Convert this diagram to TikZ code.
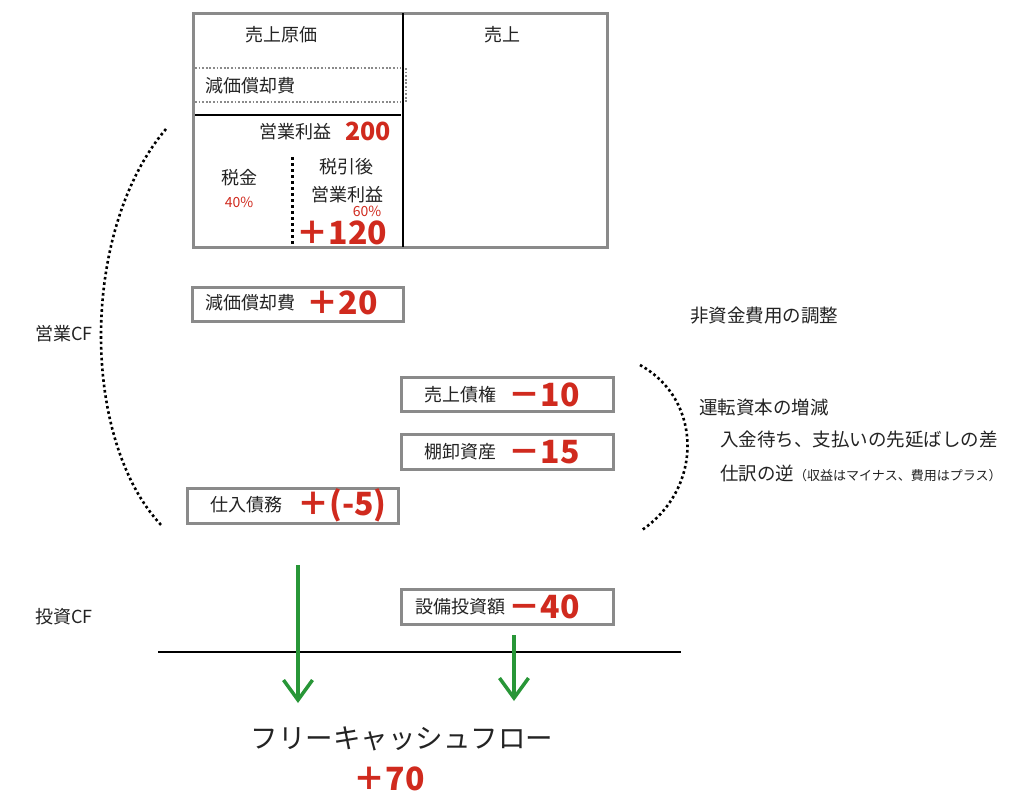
\documentclass[tikz,border=0pt]{standalone}
\usepackage{fontspec}
\setmainfont{Noto Sans CJK JP}
\usetikzlibrary{arrows.meta}
\definecolor{rednum}{RGB}{208,42,30}
\definecolor{boxgray}{RGB}{138,138,138}
\definecolor{arrowgreen}{RGB}{40,150,55}
\definecolor{txt}{RGB}{35,35,35}
\tikzset{
  lbl/.style={inner sep=0pt, text=txt, font=\fontsize{18}{21}\selectfont},
  note/.style={inner sep=0pt, anchor=west, text=txt, font=\fontsize{18.5}{22}\selectfont},
  num/.style={inner sep=0pt, text=rednum, font=\fontsize{32}{36}\selectfont\bfseries},
  midnum/.style={inner sep=0pt, text=rednum, font=\fontsize{25}{28}\selectfont\bfseries},
  pct/.style={inner sep=0pt, text=rednum, font=\fontsize{14}{16}\selectfont},
  itembox/.style={draw=boxgray, line width=3pt, inner sep=0pt},
  flow/.style={draw=arrowgreen, line width=4pt, -{Straight Barb[length=20pt,width=29pt,line width=3.5pt]}},
  bracket/.style={line width=2.6pt, dash pattern=on 2.6pt off 2.8pt},
  graydot/.style={draw=boxgray, line width=1.8pt, dash pattern=on 1.8pt off 1.8pt},
}
\begin{document}
\begin{tikzpicture}[x=1pt,y=-1pt]
\useasboundingbox[fill=white] (0,0) rectangle (1024,807);

% P/L box
\node[itembox, minimum width=414pt, minimum height=234pt] (pl) at (400,130) {};
\draw[line width=2.5pt] (403,13) -- (403,247);
\draw[graydot] (195,68) -- (401,68);
\draw[graydot] (195,102) -- (401,102);
\draw[graydot] (406,68) -- (406,102);
\draw[line width=2.5pt] (195,115) -- (401,115);
\draw[line width=3pt, dash pattern=on 3pt off 3pt] (292,157) -- (292,246);

\node[lbl] (cogs) at (281,35) {売上原価};
\node[lbl] (sales) at (502,35) {売上};
\node[lbl] (dep) at (250,86) {減価償却費};
\node[lbl] (op) at (295,132) {営業利益};
\node[midnum] (op200) at (368,131) {200};
\node[lbl] (tax) at (239,178) {税金};
\node[pct] (tax40) at (239,202) {40\%};
\node[lbl] (after) at (346,167) {税引後};
\node[lbl] (op2) at (347,195) {営業利益};
\node[pct] (p60) at (367,211) {60\%};
\node[num] (n120) at (342,233) {＋120};

% item boxes
\node[itembox, minimum width=211pt, minimum height=34pt] (b1) at (297.5,304) {};
\node[lbl] (b1t) at (250,303) {減価償却費};
\node[num] (b1n) at (342,303) {＋20};

\node[itembox, minimum width=212pt, minimum height=34pt] (b2) at (507,394) {};
\node[lbl] (b2t) at (460,395) {売上債権};
\node[num] (b2n) at (544,395) {－10};

\node[itembox, minimum width=212pt, minimum height=35pt] (b3) at (507,451.5) {};
\node[lbl] (b3t) at (460,452) {棚卸資産};
\node[num] (b3n) at (544,452) {－15};

\node[itembox, minimum width=211pt, minimum height=35pt] (b4) at (292.5,505.5) {};
\node[lbl] (b4t) at (246,505) {仕入債務};
\node[num] (b4n) at (342,505) {＋(-5)};

\node[itembox, minimum width=212pt, minimum height=35pt] (b5) at (507,606.5) {};
\node[lbl] (b5t) at (460,607) {設備投資額};
\node[num] (b5n) at (544,607) {－40};

% side labels
\node[lbl] (opcf) at (64,334) {営業CF};
\node[lbl] (invcf) at (64,617) {投資CF};

\node[note] (n1) at (690,316) {非資金費用の調整};
\node[note] (n2) at (699,407) {運転資本の増減};
\node[note] (n3) at (720,439) {入金待ち、支払いの先延ばしの差};
\node[note] (n4) at (720,473) {仕訳の逆{\fontsize{13}{15}\selectfont （収益はマイナス、費用はプラス）}};

% dotted brackets
\draw[bracket] (166,129) .. controls (80,230) and (80,440) .. (162,526);
\draw[bracket] (640,365) .. controls (703,400) and (703,488) .. (642,530);

% total line
\coordinate (ls) at (158,652);
\coordinate (le) at (681,652);
\draw[line width=2pt] (ls) -- (le);

% green arrows
\coordinate (a1s) at (298,565);
\coordinate (a1e) at (298,703);
\coordinate (a2s) at (514,635);
\coordinate (a2e) at (514,701);
\draw[flow] (a1s) -- (a1e);
\draw[flow] (a2s) -- (a2e);

\node[inner sep=0pt, text=txt, font=\fontsize{27.5}{30}\selectfont] (fcf) at (402,739) {フリーキャッシュフロー};
\node[num] (fcfn) at (389,779) {＋70};
\end{tikzpicture}
\end{document}
